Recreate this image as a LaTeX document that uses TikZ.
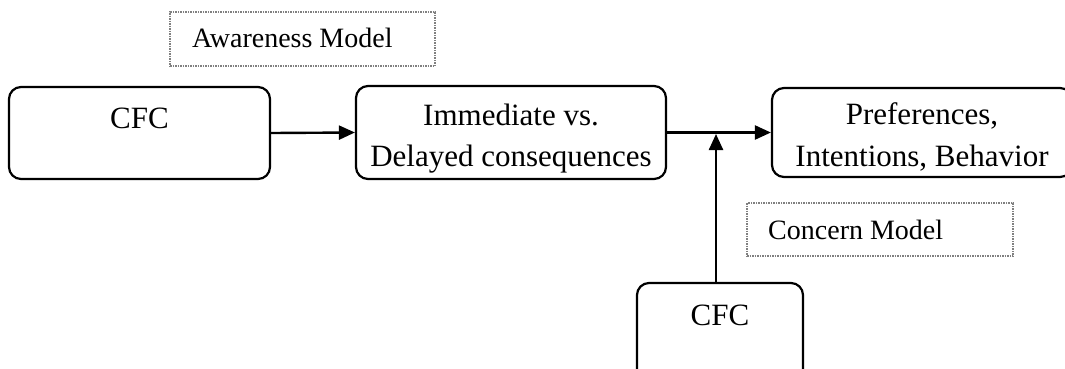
\documentclass[tikz,border=0pt]{standalone}
\usepackage{fontspec}
\setmainfont{Liberation Serif}
\usetikzlibrary{arrows.meta}
\tikzset{
  box/.style={draw=black, line width=2.2pt, rounded corners=12pt, inner sep=0pt},
  note/.style={draw=gray, line width=1.5pt, dash pattern=on 1.5pt off 1pt, inner sep=0pt},
  big/.style={font=\fontsize{31}{41}\selectfont, inner sep=0pt, anchor=base},
  small/.style={font=\fontsize{28}{34}\selectfont, inner sep=0pt, anchor=base west},
  conn/.style={line width=2.4pt, -{Triangle[length=16pt,width=14pt]}}
}
\begin{document}
\begin{tikzpicture}[x=1pt,y=-1pt]
\clip (0,0) rectangle (1065,368);
\fill[white] (0,0) rectangle (1065,368);
% dotted label boxes
\node[note, minimum width=265pt, minimum height=54pt] (aw) at (302.5,39) {};
\node[small] (awt) at (192,47) {Awareness Model};
\node[note, minimum width=266pt, minimum height=53pt] (cm) at (880,229.5) {};
\node[small] (cmt) at (768,239) {Concern Model};
% main boxes
\node[box, minimum width=261pt, minimum height=92pt] (cfc1) at (139.5,133) {};
\node[big] (cfc1t) at (139.5,128) {CFC};
\node[box, minimum width=310pt, minimum height=93pt] (imm) at (511,132.5) {};
\node[big] (immt1) at (511,125) {Immediate vs.};
\node[big] (immt2) at (511,166) {Delayed consequences};
\node[box, minimum width=300pt, minimum height=89pt] (pib) at (922,132.5) {};
\node[big] (pibt1) at (922,124) {Preferences,};
\node[big] (pibt2) at (922,166) {Intentions, Behavior};
\node[box, minimum width=166pt, minimum height=100pt] (cfc2) at (720,333) {};
\node[big] (cfc2t) at (720,325) {CFC};
% connectors
\coordinate (j) at (716,134);
\draw[conn] (cfc1.east) -- (imm.west);
\draw[conn] (imm.east) -- (pib.west);
\draw[conn] (cfc2.north -| j) -- (j);
\end{tikzpicture}
\end{document}
